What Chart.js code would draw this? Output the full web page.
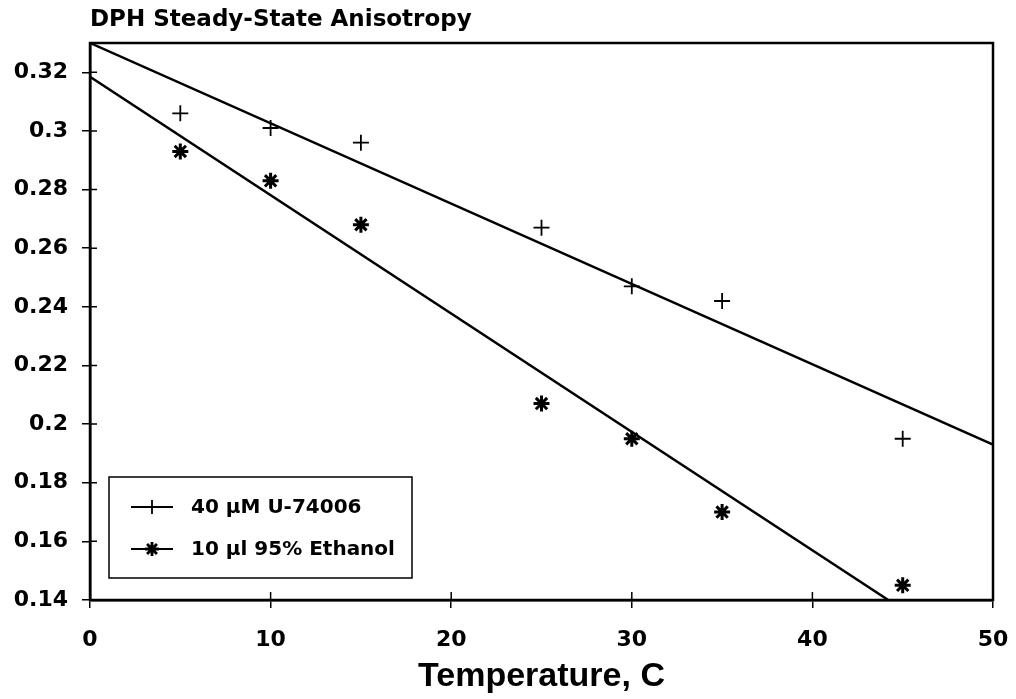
<!DOCTYPE html>
<html>
<head>
<meta charset="utf-8">
<script src="https://cdn.jsdelivr.net/npm/chart.js@4/dist/chart.umd.min.js"></script>
<style>
  body { margin: 0; background: #fff; }
</style>
</head>
<body>
<canvas id="anisoChart" width="1016" height="699"></canvas>
<script>
// Temperature (C) and steady-state anisotropy values
const temps = [5, 10, 15, 25, 30, 35, 45];
const u74006 = [0.306, 0.301, 0.296, 0.267, 0.247, 0.242, 0.195];
const ethanol = [0.293, 0.283, 0.268, 0.207, 0.195, 0.170, 0.145];

// regression lines (end points)
const fitX1 = [0, 50];
const fitY1 = [0.330, 0.193];
const fitX2 = [0, 44.2];
const fitY2 = [0.3185, 0.140];

const xTicks = [0, 10, 20, 30, 40, 50];
const yTicks = [0.14, 0.16, 0.18, 0.2, 0.22, 0.24, 0.26, 0.28, 0.3, 0.32];

const seriesLabels = ['40 \u00B5M U-74006', '10 \u00B5l 95% Ethanol'];

const toPoints = (xs, ys) => xs.map((x, i) => ({ x: x, y: ys[i] }));

const tickFont = { family: 'DejaVu Sans', weight: 'bold', size: 22 };

// frame round the plot + tick marks reaching into the plot
const framePlugin = {
    id: 'frame',
    afterDraw(chart) {
        const { ctx, chartArea: a, scales } = chart;
        ctx.save();
        ctx.strokeStyle = '#000';
        ctx.lineWidth = 2.5;
        ctx.strokeRect(a.left, a.top, a.right - a.left, a.bottom - a.top);
        ctx.lineWidth = 1.5;
        ctx.beginPath();
        yTicks.forEach(v => {
            const y = scales.y.getPixelForValue(v);
            ctx.moveTo(a.left, y);
            ctx.lineTo(a.left + 7, y);
        });
        xTicks.forEach(v => {
            const x = scales.x.getPixelForValue(v);
            ctx.moveTo(x, a.bottom);
            ctx.lineTo(x, a.bottom - 8);
        });
        ctx.stroke();
        ctx.restore();
    }
};

function drawMarker(ctx, style, x, y, r) {
    ctx.beginPath();
    ctx.moveTo(x - r, y); ctx.lineTo(x + r, y);
    ctx.moveTo(x, y - r); ctx.lineTo(x, y + r);
    if (style === 'star') {
        const d = r * 0.707;
        ctx.moveTo(x - d, y - d); ctx.lineTo(x + d, y + d);
        ctx.moveTo(x - d, y + d); ctx.lineTo(x + d, y - d);
    }
    ctx.stroke();
}

// boxed legend in the lower left corner of the plot
const boxLegend = {
    id: 'boxLegend',
    afterDraw(chart) {
        const ctx = chart.ctx;
        const a = chart.chartArea;
        const left = a.left + 19, top = 477, w = 303, h = 101;
        ctx.save();
        ctx.strokeStyle = '#000';
        ctx.lineWidth = 1.5;
        ctx.strokeRect(left, top, w, h);
        const rows = [
            { style: 'cross', y: top + 30, width: 1.8 },
            { style: 'star', y: top + 72, width: 2.8 }
        ];
        rows.forEach((row, i) => {
            ctx.lineWidth = 2.2;
            ctx.beginPath();
            ctx.moveTo(left + 22, row.y);
            ctx.lineTo(left + 64, row.y);
            ctx.stroke();
            ctx.lineWidth = row.width;
            drawMarker(ctx, row.style, left + 43, row.y, 7);
            ctx.fillStyle = '#000';
            ctx.font = 'bold 20px "DejaVu Sans"';
            ctx.textBaseline = 'middle';
            ctx.fillText(seriesLabels[i], left + 82, row.y + 1);
        });
        ctx.restore();
    }
};

new Chart(document.getElementById('anisoChart'), {
    type: 'scatter',
    data: {
        datasets: [
            {
                label: seriesLabels[0],
                data: toPoints(temps, u74006),
                pointStyle: 'cross',
                pointRadius: 8,
                pointHoverRadius: 8,
                borderColor: '#000',
                borderWidth: 1.8,
                showLine: false
            },
            {
                label: seriesLabels[1],
                data: toPoints(temps, ethanol),
                pointStyle: 'star',
                pointRadius: 8,
                pointHoverRadius: 8,
                borderColor: '#000',
                borderWidth: 3,
                showLine: false
            },
            {
                label: 'fit 1',
                data: toPoints(fitX1, fitY1),
                showLine: true,
                pointRadius: 0,
                borderColor: '#000',
                borderWidth: 2.5
            },
            {
                label: 'fit 2',
                data: toPoints(fitX2, fitY2),
                showLine: true,
                pointRadius: 0,
                borderColor: '#000',
                borderWidth: 2.5
            }
        ]
    },
    options: {
        responsive: false,
        animation: false,
        layout: { padding: { left: 0, right: 23, top: 0, bottom: 0 } },
        plugins: {
            legend: { display: false },
            tooltip: { enabled: false },
            title: {
                display: true,
                text: 'DPH Steady-State Anisotropy',
                align: 'start',
                fullSize: false,
                color: '#000',
                font: { family: 'DejaVu Sans', weight: 'bold', size: 23 },
                padding: { top: 6, bottom: 9.4 }
            }
        },
        scales: {
            x: {
                type: 'linear',
                min: 0,
                max: 50,
                afterBuildTicks: s => { s.ticks = xTicks.map(v => ({ value: v })); },
                afterFit: s => { s.height = 99; s.paddingLeft = 0; s.paddingRight = 0; },
                grid: { drawOnChartArea: false, color: '#000', tickLength: 8, lineWidth: 1.5 },
                border: { color: '#000', width: 2.5 },
                ticks: { color: '#000', font: tickFont, padding: 19, maxRotation: 0 },
                title: {
                    display: true,
                    text: 'Temperature, C',
                    color: '#000',
                    font: { family: 'Liberation Sans', weight: 'bold', size: 34 },
                    padding: { top: 0, bottom: 2 }
                }
            },
            y: {
                min: 0.14,
                max: 0.33,
                afterBuildTicks: s => { s.ticks = yTicks.map(v => ({ value: v })); },
                afterFit: s => { s.width = 90; },
                grid: { drawOnChartArea: false, color: '#000', tickLength: 8, lineWidth: 1.5 },
                border: { color: '#000', width: 2.5 },
                ticks: {
                    color: '#000',
                    font: tickFont,
                    padding: 14,
                    callback: v => String(Number(v.toFixed(2)))
                }
            }
        }
    },
    plugins: [framePlugin, boxLegend]
});
</script>
</body>
</html>
